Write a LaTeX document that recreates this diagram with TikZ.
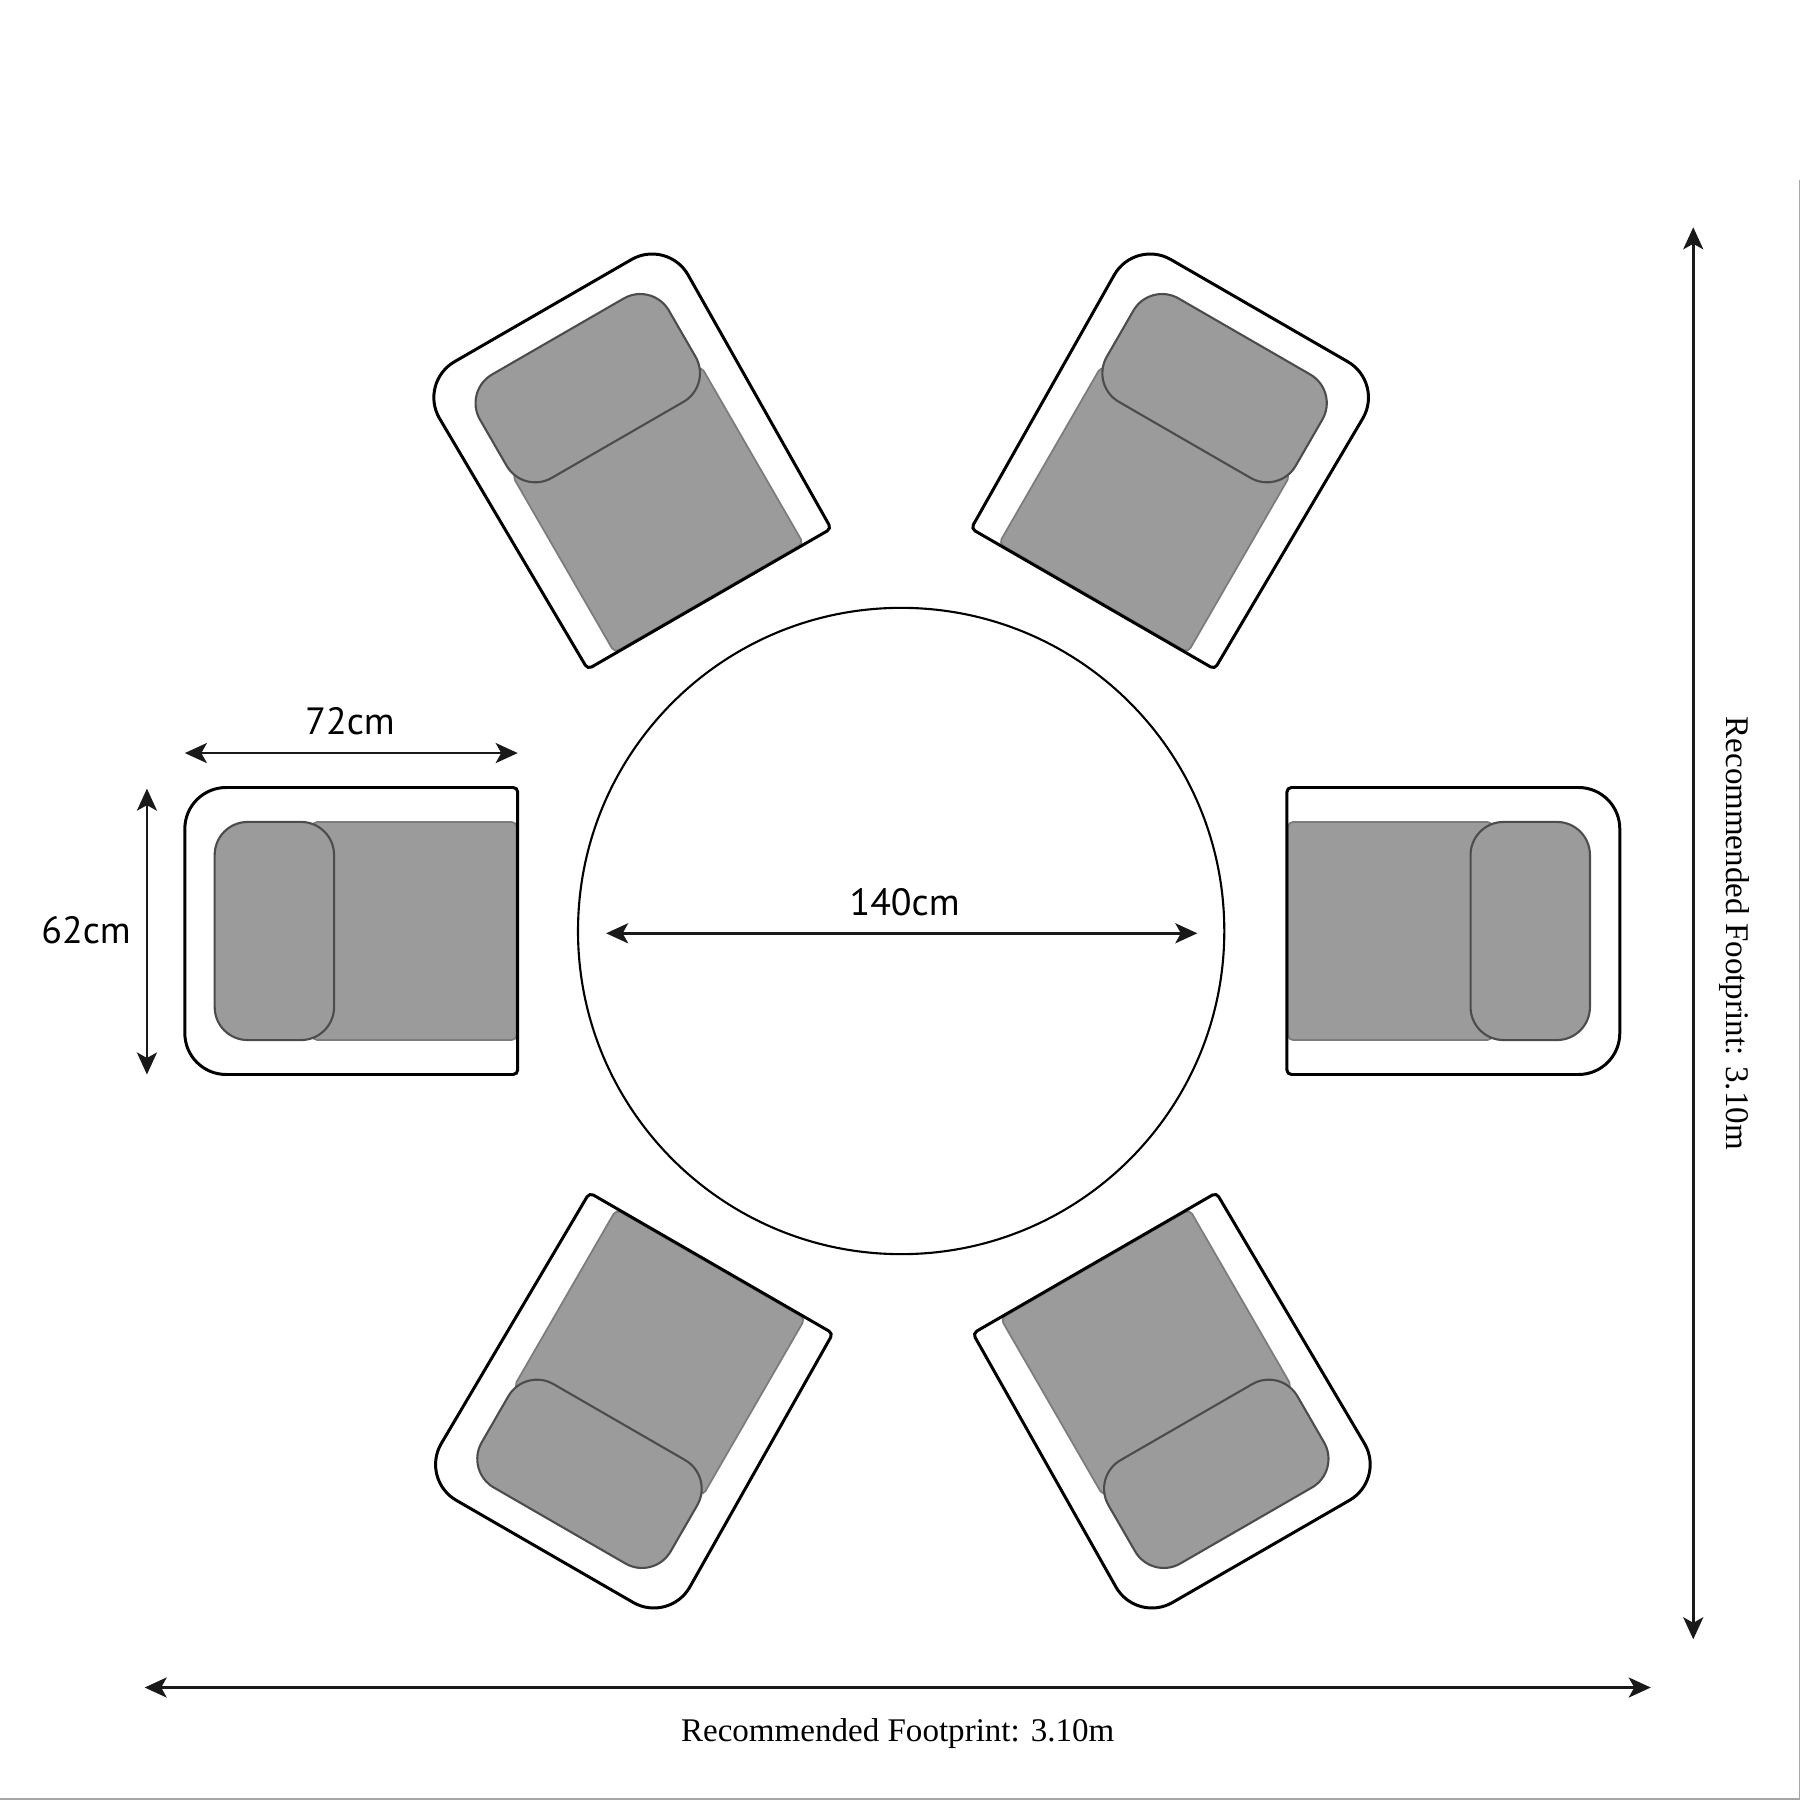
\documentclass[tikz,border=0pt]{standalone}
\usepackage{fontspec}
\setmainfont{Liberation Serif}
\newfontfamily\dimfont{PT Sans}
\usetikzlibrary{arrows.meta}

\begin{document}
\begin{tikzpicture}[
x=0.01148cm, y=0.01148cm,
dimline/.style = {% dimension arrows
    {Stealth[length=2.2mm,width=2mm,inset=0.55mm]}-{Stealth[length=2.2mm,width=2mm,inset=0.55mm]},
    line width=0.8pt, black!90,
            },
dimlabel/.style = {font=\dimfont\fontsize{10.8}{12}\selectfont, inner sep=0pt},
footlabel/.style = {font=\fontsize{9.4}{11}\selectfont, inner sep=0pt},
frame/.style = {line width=0.85pt, black},
seat/.style = {fill=cushion, draw=cushion!80!black, line width=0.5pt, rounded corners=0.5mm},
back/.style = {fill=cushion, draw=black!70, line width=0.6pt, rounded corners=3.3mm},
                        ]
\definecolor{cushion}{HTML}{9B9B9B}
\useasboundingbox (0,0) rectangle (1568,-1568);
% page edge
\draw[gray!70, line width=0.5pt] (1567.5,-157) -- (1567.5,-1567) -- (0,-1567);
% table
\node[circle, draw, line width=0.6pt, minimum size=6.46cm, inner sep=0pt] (table) at (785,-811) {};
% chairs: angle / shift in x / half width of the frame at its open end
\foreach \a/\dx/\h in {0/0/125, 60/1.5/122.5, 120/1.5/122.5, 180/2/125, 240/0/122.5, 300/0/122.5}{
\begin{scope}[shift={(785+\dx,-811)}, rotate=\a]
    \draw[seat] (-513,95) rectangle (-335,-95);
    \draw[back] (-598,95) rectangle (-494,-95);
    \draw[frame] (-338,\h) -- (-588,125) arc[start angle=90, end angle=180, radius=36]
        -- (-624,-89) arc[start angle=180, end angle=270, radius=36]
        -- (-338,-\h) arc[start angle=270, end angle=360, radius=4]
        -- (-334,\h-4) arc[start angle=0, end angle=90, radius=4] -- cycle;
\end{scope}
}
% end points of the dimensions
\coordinate (wl) at (161,-656);
\coordinate (wr) at (451,-656);
\coordinate (dt) at (128,-687);
\coordinate (db) at (128,-936);
\coordinate (tl) at (528,-813);
\coordinate (tr) at (1043,-813);
\coordinate (ft) at (1475,-198);
\coordinate (fb) at (1475,-1428);
\coordinate (fl) at (126,-1470);
\coordinate (fr) at (1438,-1470);
% dimensions
\draw[dimline] (wl) -- (wr);
\draw[dimline] (dt) -- (db);
\draw[dimline] (tl) -- (tr);
\draw[dimline] (ft) -- (fb);
\draw[dimline] (fl) -- (fr);
% labels
\node[dimlabel] (width) at (305,-628) {72cm};
\node[dimlabel] (depth) at (75,-810) {62cm};
\node[dimlabel] (dia) at (788,-786) {140cm};
\node[footlabel, rotate=-90] (footv) at (1511,-813) {Recommended Footprint: 3.10m};
\node[footlabel] (footh) at (782,-1510) {Recommended Footprint: 3.10m};
\end{tikzpicture}
\end{document}
